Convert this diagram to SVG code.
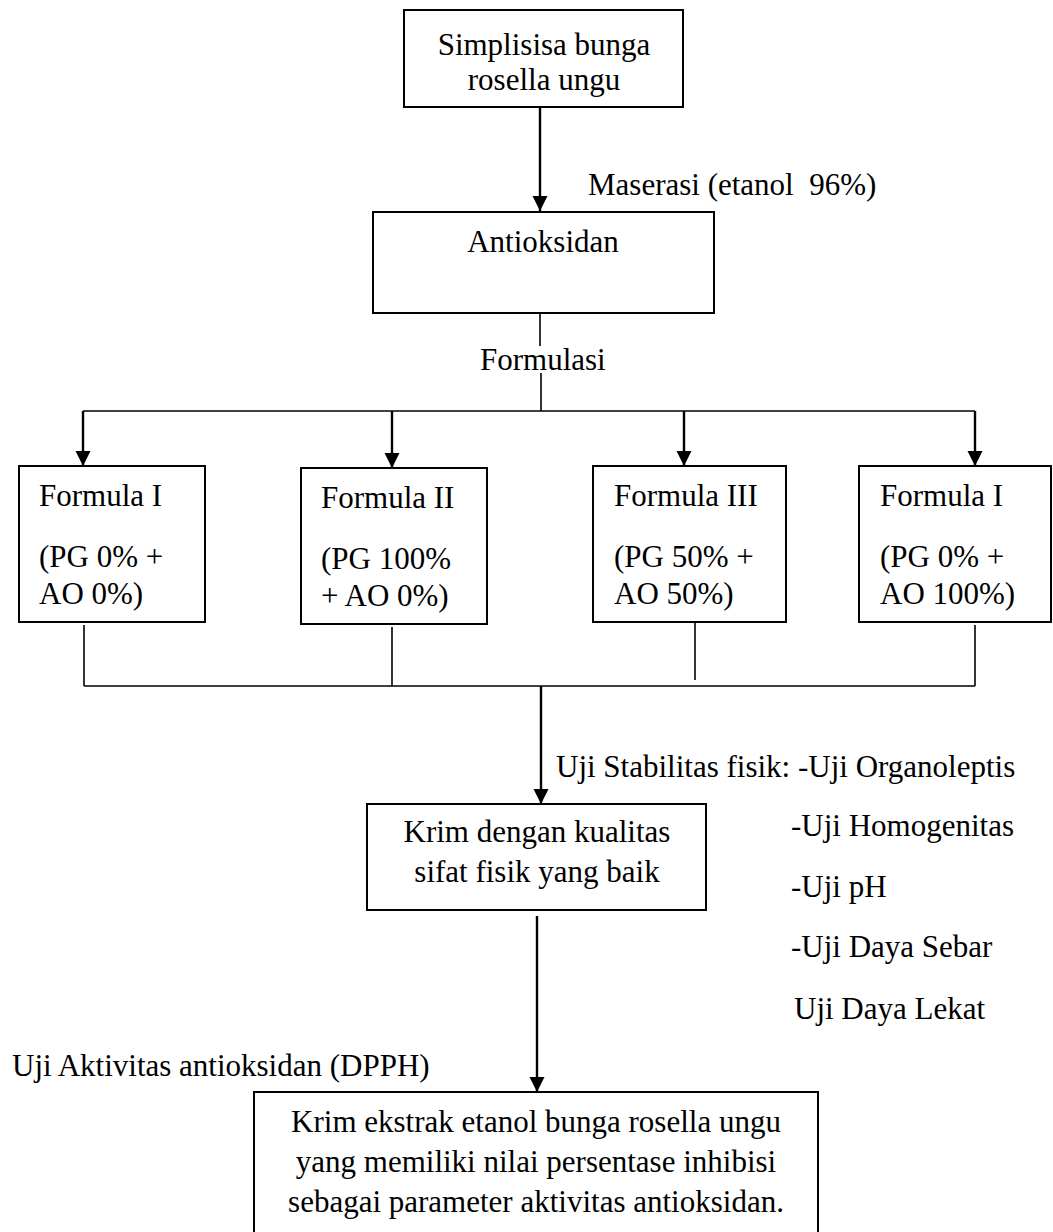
<svg xmlns="http://www.w3.org/2000/svg" width="1053" height="1232" viewBox="0 0 1053 1232">
<style>
text{font-family:"Liberation Serif","Times New Roman",serif;font-size:31px;fill:#000;white-space:pre}
.c{text-anchor:middle}
.box{fill:#fff;stroke:#000;stroke-width:2}
.ln{stroke:#000;stroke-width:1.6;fill:none}
.ar{stroke:#000;stroke-width:2.4;fill:none;marker-end:url(#ah)}
</style>
<defs>
<marker id="ah" markerUnits="userSpaceOnUse" markerWidth="16" markerHeight="16" refX="15" refY="7.5" orient="auto">
<path d="M0,0 L15,7.5 L0,15 z" fill="#000"/>
</marker>
</defs>
<rect width="1053" height="1232" fill="#fff"/>
<g id="connectors">
<line class="ar" x1="540" y1="107" x2="540" y2="211"/>
<line class="ln" x1="540" y1="313" x2="540" y2="346"/>
<line class="ln" x1="541" y1="373" x2="541" y2="411"/>
<line class="ln" x1="83" y1="411" x2="975" y2="411"/>
<line class="ar" x1="83" y1="411" x2="83" y2="466"/>
<line class="ar" x1="392" y1="411" x2="392" y2="468"/>
<line class="ar" x1="684" y1="411" x2="684" y2="466"/>
<line class="ar" x1="975" y1="411" x2="975" y2="466"/>
<line class="ln" x1="84" y1="625" x2="84" y2="686"/>
<line class="ln" x1="392" y1="627" x2="392" y2="686"/>
<line class="ln" x1="695" y1="623" x2="695" y2="680"/>
<line class="ln" x1="975" y1="625" x2="975" y2="686"/>
<line class="ln" x1="84" y1="686" x2="975" y2="686"/>
<line class="ar" x1="541" y1="686" x2="541" y2="804"/>
<line class="ar" x1="537" y1="916" x2="537" y2="1092"/>
</g>
<g id="n-simplisia">
<rect class="box" x="404" y="10" width="279" height="97"/>
<text class="c" x="544" y="55">Simplisisa bunga</text>
<text class="c" x="544" y="90">rosella ungu</text>
</g>
<text id="l-maserasi" x="588" y="195">Maserasi (etanol  96%)</text>
<g id="n-antioksidan">
<rect class="box" x="373" y="212" width="341" height="101"/>
<text class="c" x="543" y="252">Antioksidan</text>
</g>
<text id="l-formulasi" x="480" y="370">Formulasi</text>
<g id="n-f1">
<rect class="box" x="19" y="466" width="186" height="156"/>
<text x="39" y="506">Formula I</text>
<text x="39" y="567">(PG 0% +</text>
<text x="39" y="604">AO 0%)</text>
</g>
<g id="n-f2">
<rect class="box" x="301" y="468" width="186" height="156"/>
<text x="321" y="508">Formula II</text>
<text x="321" y="569">(PG 100%</text>
<text x="321" y="606">+ AO 0%)</text>
</g>
<g id="n-f3">
<rect class="box" x="593" y="466" width="193" height="156"/>
<text x="614" y="506">Formula III</text>
<text x="614" y="567">(PG 50% +</text>
<text x="614" y="604">AO 50%)</text>
</g>
<g id="n-f4">
<rect class="box" x="859" y="466" width="192" height="156"/>
<text x="880" y="506">Formula I</text>
<text x="880" y="567">(PG 0% +</text>
<text x="880" y="604">AO 100%)</text>
</g>
<g id="l-uji-stabilitas">
<text x="556" y="777">Uji Stabilitas fisik: -Uji Organoleptis</text>
<text x="791" y="836">-Uji Homogenitas</text>
<text x="791" y="897">-Uji pH</text>
<text x="791" y="957">-Uji Daya Sebar</text>
<text x="794" y="1019">Uji Daya Lekat</text>
</g>
<g id="n-krim">
<rect class="box" x="367" y="804" width="339" height="106"/>
<text class="c" x="537" y="842">Krim dengan kualitas</text>
<text class="c" x="537" y="882">sifat fisik yang baik</text>
</g>
<text id="l-dpph" x="12" y="1076">Uji Aktivitas antioksidan (DPPH)</text>
<g id="n-final">
<rect class="box" x="254" y="1092" width="564" height="141"/>
<text class="c" x="536" y="1132">Krim ekstrak etanol bunga rosella ungu</text>
<text class="c" x="536" y="1172">yang memiliki nilai persentase inhibisi</text>
<text class="c" x="536" y="1212">sebagai parameter aktivitas antioksidan.</text>
</g>
</svg>
